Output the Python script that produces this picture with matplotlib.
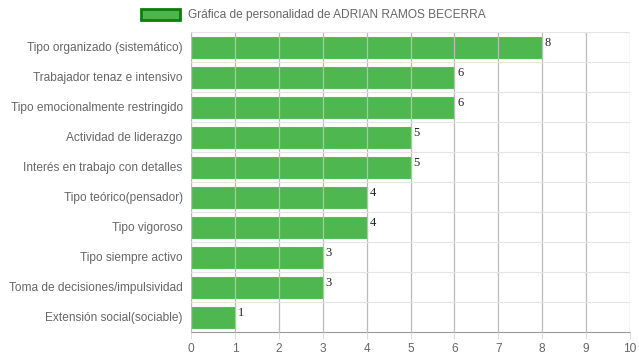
import matplotlib
matplotlib.use("Agg")
import matplotlib.pyplot as plt
from matplotlib.patches import Rectangle

categorias = [
    "Tipo organizado (sistemático)",
    "Trabajador tenaz e intensivo",
    "Tipo emocionalmente restringido",
    "Actividad de liderazgo",
    "Interés en trabajo con detalles",
    "Tipo teórico(pensador)",
    "Tipo vigoroso",
    "Tipo siempre activo",
    "Toma de decisiones/impulsividad",
    "Extensión social(sociable)",
]
valores = [8, 6, 6, 5, 5, 4, 4, 3, 3, 1]
titulo_leyenda = "Gráfica de personalidad de ADRIAN RAMOS BECERRA"

plt.rcParams["font.family"] = ["Liberation Sans", "DejaVu Sans"]

fig = plt.figure(figsize=(6.39, 3.6), dpi=100)
ax = fig.add_axes([191 / 639, 1 - 332 / 360, (630 - 191) / 639, 300 / 360])

pos = list(range(len(categorias)))
ax.barh(pos, valores, height=0.7, color="#3cb03c", alpha=0.9,
        edgecolor="#4fbb4f", linewidth=0.8, zorder=2)
for p, v in zip(pos, valores):
    ax.annotate(str(v), (v, p - 0.35), xytext=(2, 0), textcoords="offset points",
                ha="left", va="top", fontsize=9, family="Liberation Serif",
                color="#222222")

ax.set_xlim(0, 10)
ax.set_ylim(len(categorias) - 0.5, -0.5)
ax.set_xticks(range(11))
ax.set_yticks(pos)
ax.set_yticklabels(categorias)
ax.set_yticks([p + 0.5 for p in pos[:-1]] + [-0.5], minor=True)
ax.grid(axis="x", color="#bbbbbb", linewidth=0.9, zorder=3)
ax.grid(axis="y", which="minor", color="#e4e4e4", linewidth=0.8, zorder=1)
ax.set_axisbelow(False)
ax.tick_params(axis="both", which="major", colors="#666666", labelsize=8.6,
               length=0, pad=6)
ax.tick_params(axis="y", which="minor", length=0)
ax.tick_params(axis="x", length=5, color="#dddddd", pad=3)
for s in ["top", "right"]:
    ax.spines[s].set_visible(False)
ax.spines["left"].set_color("#cccccc")
ax.spines["bottom"].set_color("#999999")

# leyenda arriba, centrada
fig.patches.append(Rectangle((141 / 639, 1 - 20 / 360), 39 / 639, 11 / 360,
                             transform=fig.transFigure, facecolor="#4cb54c",
                             edgecolor="#0d7d0d", linewidth=2))
fig.text(188 / 639, 1 - 15 / 360, titulo_leyenda, fontsize=8.6,
         color="#666666", va="center", ha="left")

fig.savefig("out.png", dpi=100)
